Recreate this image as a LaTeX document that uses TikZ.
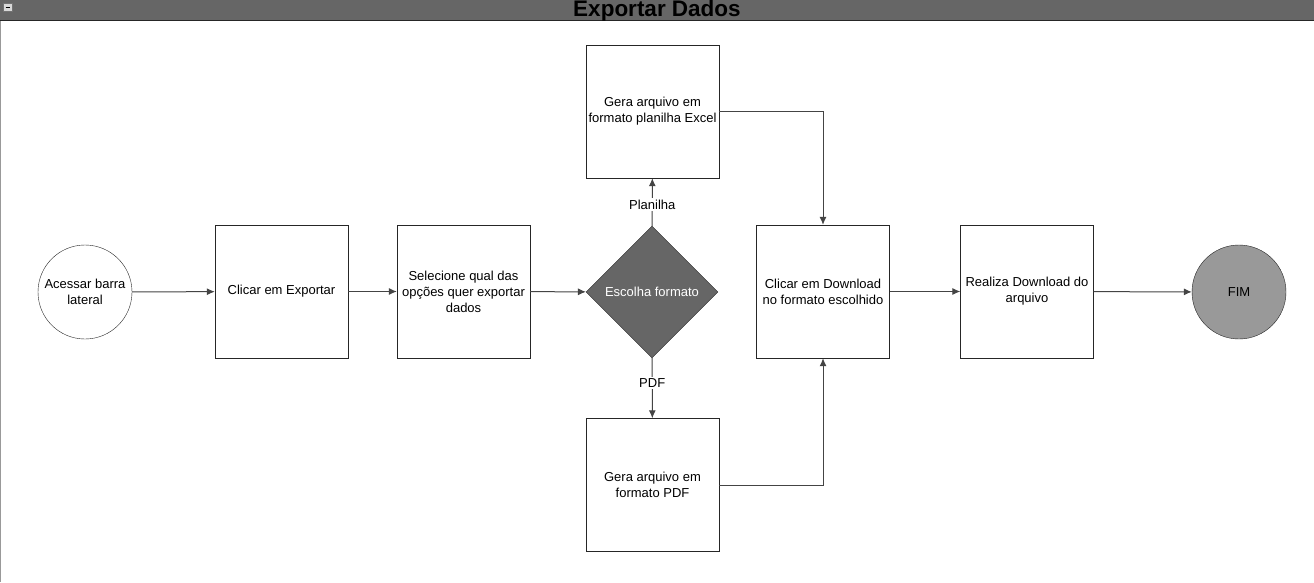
\documentclass[tikz,border=0pt]{standalone}
\usepackage{fontspec}
\setmainfont{Liberation Sans}
\usepackage{tikz}
\usetikzlibrary{arrows.meta}
\usetikzlibrary{positioning}
\usetikzlibrary{shapes.geometric}
\definecolor{hdrgray}{HTML}{666666}
\definecolor{fimgray}{HTML}{999999}
\definecolor{linegray}{HTML}{444444}
\tikzset{
  passo/.style={draw=black!85,rectangle,minimum width=133pt,minimum height=133pt,inner sep=2pt,align=center,font=\fontsize{13}{16}\selectfont},
  ponto/.style={draw=black!85,circle,minimum size=94pt,inner sep=0pt,align=center,font=\fontsize{13}{16}\selectfont},
  fluxo/.style={draw=linegray,line width=1pt,-{Latex[length=8pt,width=7pt]}}
}
\begin{document}
\begin{tikzpicture}[x=1pt,y=-1pt]
  \useasboundingbox (0,0) rectangle (1314,582);
  \fill[white] (0,0) rectangle (1314,582);
  % cabecalho
  \fill[hdrgray] (0,0) rectangle (1314,20);
  \draw[black!85,line width=1pt] (0,20.5)--(1314,20.5);
  \draw[black!40,line width=1.2pt] (0.6,21)--(0.6,582);
  \draw[black!55,fill=black!15] (3.5,3.5) rectangle (12,11.5);
  \draw[black,line width=1.2pt] (5.5,7.5)--(10,7.5);
  \node (titulo) at (657,11){\fontsize{22.5}{23}\selectfont\bfseries Exportar Dados};

  \node[ponto] (inicio) at (85,292){Acessar barra\\lateral};
  \node[passo] (exportar) at (281.5,291.5){Clicar em Exportar};
  \node[passo] (selecione) at (463.5,291.5){Selecione qual das\\op\c{c}\~oes quer exportar\\dados};
  \node[diamond,draw=black!85,fill=hdrgray,minimum width=132pt,minimum height=132pt,inner sep=0pt,text=white,font=\fontsize{13}{16}\selectfont] (escolha) at (652,292){Escolha formato};
  \node[passo] (excel) at (652.5,111.5){Gera arquivo em\\formato planilha Excel};
  \node[passo] (pdf) at (652.5,485){Gera arquivo em\\formato PDF};
  \node[passo] (download) at (823,291.5){Clicar em Download\\no formato escolhido};
  \node[passo] (realiza) at (1027,291.5){Realiza Download do\\arquivo};
  \node[ponto,fill=fimgray] (fim) at (1239,292){FIM};

  \draw[fluxo](inicio)--(exportar);
  \draw[fluxo](exportar)--(selecione);
  \draw[fluxo](selecione)--(escolha);
  \draw[fluxo](escolha)--node[pos=0.45,fill=white,inner sep=1.5pt,font=\fontsize{13}{16}\selectfont]{Planilha}(excel);
  \draw[fluxo](escolha)--node[pos=0.42,fill=white,inner sep=1.5pt,font=\fontsize{13}{16}\selectfont]{PDF}(pdf);
  \draw[fluxo](excel)-|(download);
  \draw[fluxo](pdf)-|(download);
  \draw[fluxo](download)--(realiza);
  \draw[fluxo](realiza)--(fim);
\end{tikzpicture}
\end{document}
